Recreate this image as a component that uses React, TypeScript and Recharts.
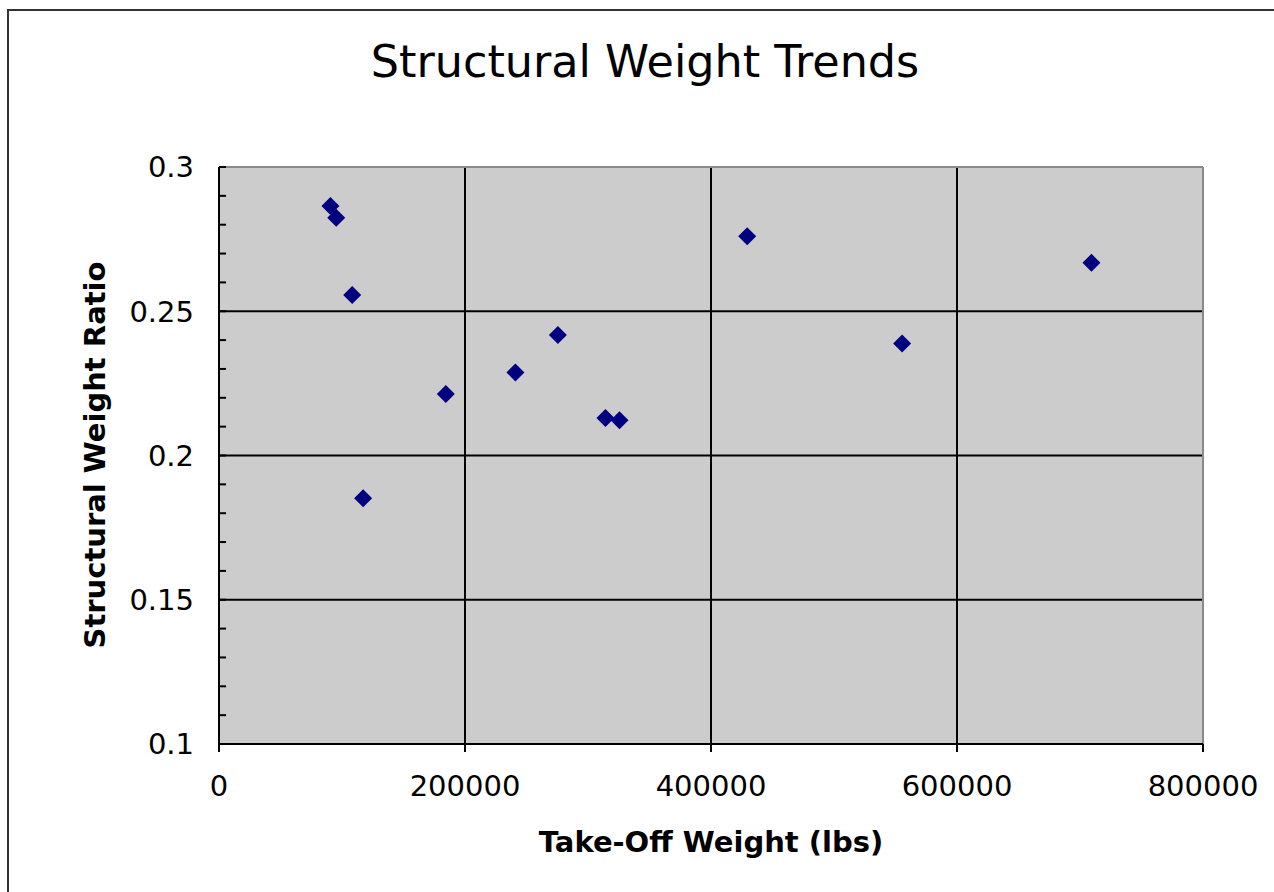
import { ScatterChart, Scatter, XAxis, YAxis, CartesianGrid, ReferenceLine } from "recharts"

// take-off weight (lbs) vs structural weight ratio
const takeOffWeight = [90600, 95300, 108300, 117200, 184400, 241000, 275500, 314200, 325600, 429400, 555400, 709300]
const structuralRatio = [0.2865, 0.2824, 0.2556, 0.1852, 0.2213, 0.2288, 0.2418, 0.213, 0.2122, 0.276, 0.2388, 0.2668]

const xTicks = [0, 200000, 400000, 600000, 800000]
const yTicks = [0.1, 0.11, 0.12, 0.13, 0.14, 0.15, 0.16, 0.17, 0.18, 0.19, 0.2, 0.21, 0.22, 0.23, 0.24, 0.25, 0.26, 0.27, 0.28, 0.29, 0.3]
const xGrid = [200000, 400000, 600000]
const yGrid = [0.15, 0.2, 0.25]

const data = takeOffWeight.map((w, i) => ({ weight: w, ratio: structuralRatio[i] }))

const font = "'DejaVu Sans', sans-serif"

function Diamond(props: any) {
  const { cx, cy } = props
  const r = 9
  return <polygon points={`${cx},${cy - r} ${cx + r},${cy} ${cx},${cy + r} ${cx - r},${cy}`} fill="#000080" />
}

// only label the 0.05 steps, the rest are minor ticks
function YTick(props: any) {
  const { x, y, payload } = props
  const major = Math.round(payload.value * 100) % 5 === 0
  if (!major) return null
  return (
    <text x={x} y={y} dy="0.355em" textAnchor="end" fontSize={29} fontFamily={font} fill="#000">
      {payload.value}
    </text>
  )
}

export default function App() {
  return (
    <div style={{ position: "fixed", inset: 0, overflow: "hidden", background: "#fff" }}>
      <div
        style={{
          position: "absolute",
          left: 7,
          top: 9,
          width: 1400,
          height: 1000,
          border: "2px solid #333",
        }}
      />
      <div style={{ position: "absolute", left: 0, top: 0 }}>
        <ScatterChart width={1274} height={892} margin={{ top: 167, right: 71, bottom: 38, left: 0 }}>
          <CartesianGrid
            fill="#cccccc"
            stroke="#000"
            strokeWidth={2}
            horizontalValues={yGrid}
            verticalValues={xGrid}
          />
          <ReferenceLine y={0.3} stroke="#8a8a8a" strokeWidth={2} />
          <ReferenceLine x={800000} stroke="#8a8a8a" strokeWidth={2} />
          <XAxis
            type="number"
            dataKey="weight"
            domain={[0, 800000]}
            ticks={xTicks}
            height={110}
            tickSize={8}
            tickMargin={23}
            axisLine={{ stroke: "#000", strokeWidth: 2 }}
            tickLine={{ stroke: "#000", strokeWidth: 2 }}
            tick={{ fontSize: 29, fontFamily: font, fill: "#000" }}
            label={{
              value: "Take-Off Weight (lbs)",
              position: "insideBottom",
              offset: 2,
              fontSize: 29,
              fontWeight: "bold",
              fontFamily: font,
              fill: "#000",
            }}
          />
          <YAxis
            type="number"
            dataKey="ratio"
            domain={[0.1, 0.3]}
            ticks={yTicks}
            interval={0}
            width={219}
            tickSize={-7}
            tickMargin={32}
            axisLine={{ stroke: "#000", strokeWidth: 2 }}
            tickLine={{ stroke: "#000", strokeWidth: 2 }}
            tick={<YTick />}
          />
          <Scatter data={data} shape={<Diamond />} isAnimationActive={false} />
        </ScatterChart>
      </div>
      <div
        style={{
          position: "absolute",
          left: 645,
          top: 40,
          transform: "translateX(-50%)",
          fontFamily: font,
          fontSize: 44.5,
          lineHeight: 1,
          whiteSpace: "nowrap",
          color: "#000",
        }}
      >
        Structural Weight Trends
      </div>
      <div
        style={{
          position: "absolute",
          left: 95,
          top: 455,
          transform: "translate(-50%, -50%) rotate(-90deg)",
          fontFamily: font,
          fontSize: 29,
          fontWeight: "bold",
          lineHeight: 1,
          whiteSpace: "nowrap",
          color: "#000",
        }}
      >
        Structural Weight Ratio
      </div>
    </div>
  )
}
